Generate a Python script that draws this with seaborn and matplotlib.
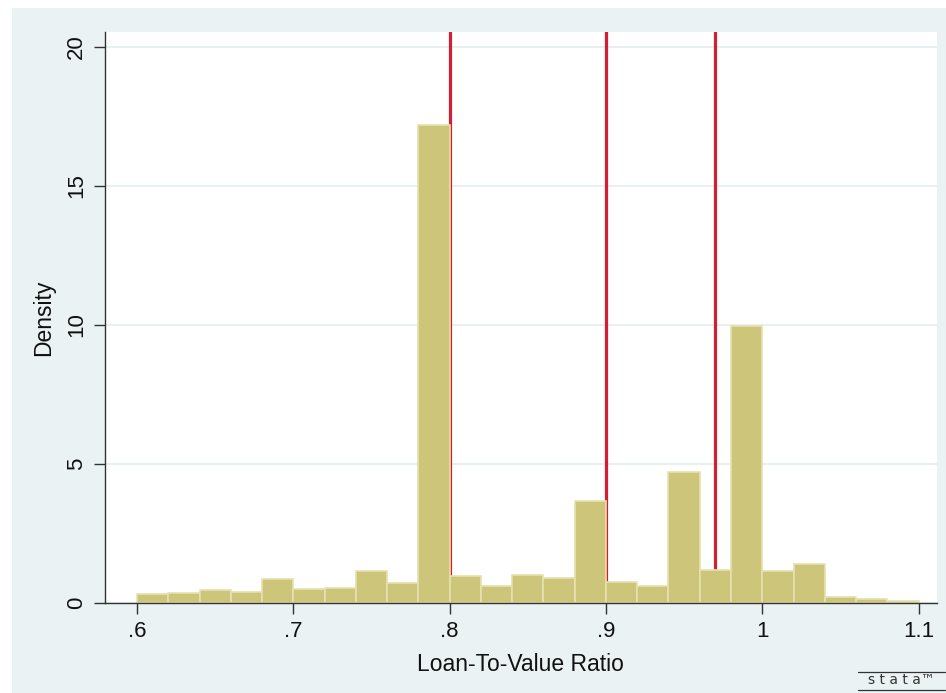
import numpy as np
import pandas as pd
import matplotlib
matplotlib.use("Agg")
import matplotlib.pyplot as plt
import seaborn as sns

# Data
bin_left = [0.60, 0.62, 0.64, 0.66, 0.68, 0.70, 0.72, 0.74, 0.76, 0.78,
            0.80, 0.82, 0.84, 0.86, 0.88, 0.90, 0.92, 0.94, 0.96, 0.98,
            1.00, 1.02, 1.04, 1.06, 1.08]
density = [0.32, 0.35, 0.45, 0.40, 0.85, 0.50, 0.55, 1.15, 0.72, 17.2,
           0.95, 0.60, 1.00, 0.90, 3.65, 0.75, 0.60, 4.70, 1.20, 9.95,
           1.15, 1.40, 0.22, 0.15, 0.08]
bin_width = 0.02
ref_lines = [0.80, 0.90, 0.97]
xticks = [0.6, 0.7, 0.8, 0.9, 1.0, 1.1]
xtick_labels = [".6", ".7", ".8", ".9", "1", "1.1"]
yticks = [0, 5, 10, 15, 20]

sns.set_style("white")
plt.rcParams['font.family'] = ['Liberation Sans', 'DejaVu Sans']

bg = "#EAF2F3"
fig = plt.figure(figsize=(9.46, 6.93), dpi=100, facecolor=bg)
# white strips at the left and top edges, as in the Stata export
fig.patches.append(plt.Rectangle((0, 0), 12 / 946, 1, transform=fig.transFigure,
                                 facecolor="white", edgecolor="none", zorder=-1))
fig.patches.append(plt.Rectangle((0, 1 - 8 / 693), 1, 8 / 693, transform=fig.transFigure,
                                 facecolor="white", edgecolor="none", zorder=-1))
ax = fig.add_axes([0.111, 0.130, 0.879, 0.824])
ax.set_facecolor("white")

df = pd.DataFrame({"x": np.array(bin_left) + bin_width / 2, "w": density})
edges = list(bin_left) + [bin_left[-1] + bin_width]

for xv in ref_lines:
    ax.axvline(xv, color="#D41F33", linewidth=2.3, zorder=1)

sns.histplot(data=df, x="x", weights="w", bins=edges, stat="count",
             color="#CDC67A", edgecolor="#E6E1AE", linewidth=1.2, alpha=1,
             ax=ax, zorder=2)

ax.set_xlim(0.5795, 1.1115)
ax.set_ylim(0, 20.54)
ax.set_xticks(xticks)
ax.set_xticklabels(xtick_labels)
ax.set_yticks(yticks)
ax.set_yticklabels([str(v) for v in yticks], rotation=90, va="center")
ax.yaxis.grid(True, color="#E3EEF0", linewidth=1.2)
ax.set_axisbelow(True)

for side in ["top", "right"]:
    ax.spines[side].set_visible(False)
for side in ["left", "bottom"]:
    ax.spines[side].set_color("#333333")
    ax.spines[side].set_linewidth(1.0)

ax.tick_params(axis="both", direction="out", length=8, width=1.0,
               color="#333333", labelsize=16, labelcolor="#111111", pad=5)
ax.tick_params(axis="both", which="both", bottom=True, left=True)
ax.set_xlabel("Loan-To-Value Ratio", fontsize=16.5, color="#111111", labelpad=8)
ax.set_ylabel("Density", fontsize=16.5, color="#111111", labelpad=8)

# Stata logo
fig.text(0.953, 0.009, "s t a t a\u2122", fontsize=10, color="#333333", ha="center",
         va="bottom", family="DejaVu Sans")
fig.add_artist(plt.Line2D([0.907, 0.999], [0.030, 0.030], color="#333333", lw=0.9))
fig.add_artist(plt.Line2D([0.907, 0.999], [0.005, 0.005], color="#333333", lw=0.9))

fig.savefig("out.png", dpi=100, facecolor=bg)
